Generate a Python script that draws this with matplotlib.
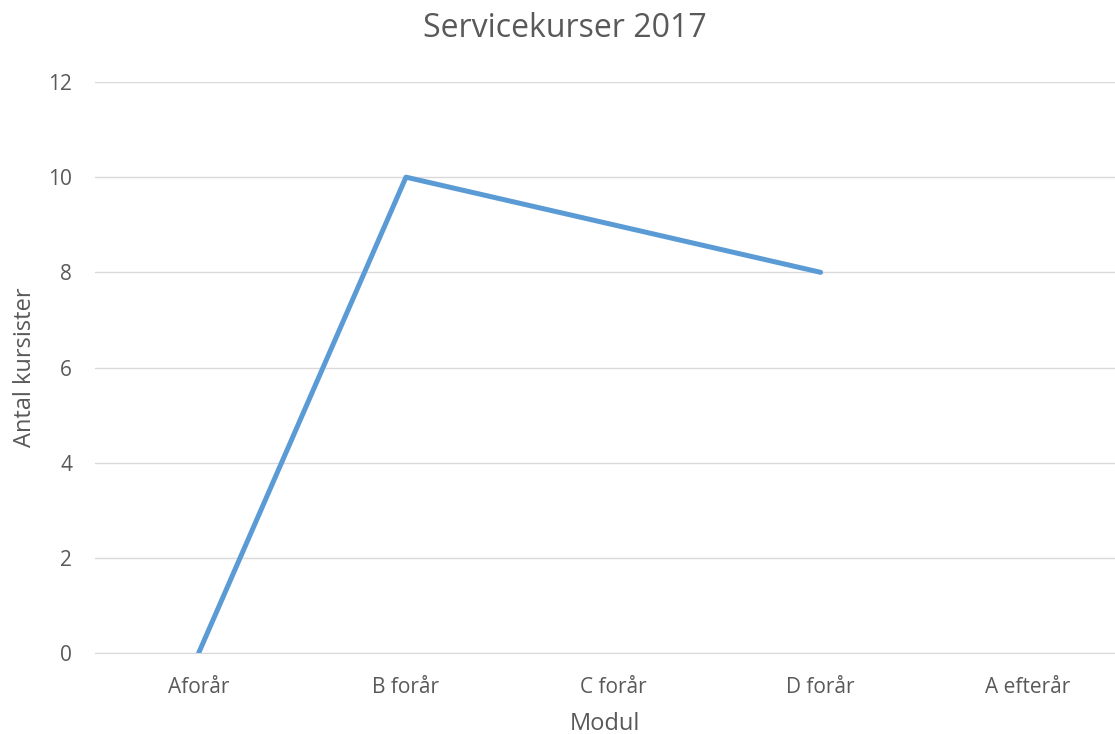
import numpy as np
import matplotlib.pyplot as plt

plt.rcParams['font.family'] = ['Open Sans', 'DejaVu Sans']

categories = ['Aforår', 'B forår', 'C forår', 'D forår', 'A efterår']
values = [0, 10, 9, 8, np.nan]
yticks = [0, 2, 4, 6, 8, 10, 12]

fig = plt.figure(figsize=(11.15, 7.34), dpi=100)
ax = fig.add_axes([95 / 1115, 81 / 734, 1 - 95 / 1115, 571 / 734])

x = np.arange(len(categories))
ax.plot(x, values, color='#5B9BD5', linewidth=3.6, solid_capstyle='round')

ax.set_xlim(-0.5, 4.42)
ax.set_ylim(0, 12)
ax.set_yticks(yticks)
ax.set_xticks(x)
ax.set_xticklabels(categories)
ax.grid(axis='y', color='#D9D9D9', linewidth=1)
ax.set_axisbelow(True)
for s in ['top', 'right', 'left']:
    ax.spines[s].set_visible(False)
ax.spines['bottom'].set_color('#D9D9D9')
ax.tick_params(length=0, labelsize=15, colors='#595959', pad=17)
ax.tick_params(axis='y', pad=16.5)

ax.set_xlabel('Modul', fontsize=17, color='#595959', labelpad=10)
ax.set_ylabel('Antal kursister', fontsize=17, color='#595959')
ax.yaxis.set_label_coords(-58 / 1020, 0.5)
fig.text(0.507, 0.961, 'Servicekurser 2017', ha='center', va='center',
         fontsize=23, color='#595959')

fig.savefig('out.png', dpi=100)
